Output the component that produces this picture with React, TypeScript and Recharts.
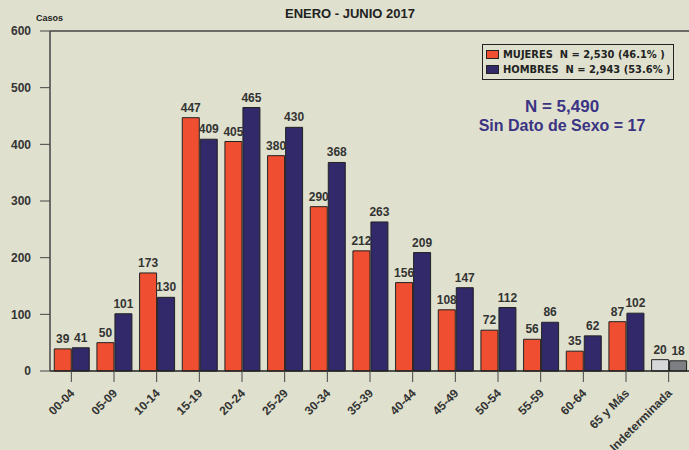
import React from 'react';
import { BarChart, Bar, XAxis, YAxis, LabelList, Cell, ReferenceLine } from 'recharts';

const categories = ['00-04', '05-09', '10-14', '15-19', '20-24', '25-29', '30-34', '35-39', '40-44', '45-49', '50-54', '55-59', '60-64', '65 y Más', 'Indeterminada'];
const mujeres = [39, 50, 173, 447, 405, 380, 290, 212, 156, 108, 72, 56, 35, 87, 20];
const hombres = [41, 101, 130, 409, 465, 430, 368, 263, 209, 147, 112, 86, 62, 102, 18];
const yTicks = [0, 100, 200, 300, 400, 500, 600];

const title = 'ENERO - JUNIO 2017';
const yLabel = 'Casos';
const legendMujeres = 'MUJERES  N = 2,530 (46.1% )';
const legendHombres = 'HOMBRES  N = 2,943 (53.6% )';
const noteTotal = 'N = 5,490';
const noteSinDato = 'Sin Dato de Sexo = 17';

const data = categories.map((c, i) => ({ cat: c, mujeres: mujeres[i], hombres: hombres[i] }));

const BG = '#DFE1CE';
const RED = '#F04E30';
const NAVY = '#31296A';
const FONT = '"Liberation Sans", Arial, sans-serif';

const XTick = (props: any) => {
  const { x, y, payload } = props;
  const ax = x + 4;
  const ay = y + 10;
  return (
    <text x={ax} y={ay} textAnchor="end" transform={`rotate(-45, ${ax}, ${ay})`}
      fontFamily={FONT} fontWeight="bold" fontSize={12} fill="#333">
      {payload.value}
    </text>
  );
};

const swatch = (color: string) => (
  <span style={{ display: 'inline-block', flexShrink: 0, width: 11, height: 7, background: color, border: '1px solid #222', marginRight: 4 }} />
);

export default function App() {
  return (
    <div style={{ position: 'absolute', left: 0, top: 0, width: 689, height: 450, background: BG, overflow: 'hidden', fontFamily: FONT }}>
      <BarChart width={690} height={450} data={data}
        margin={{ top: 31, right: 0, left: 0, bottom: 0 }}
        barCategoryGap="10%" barGap={1}>
        <XAxis dataKey="cat" interval={0} height={79} tickSize={11}
          axisLine={{ stroke: '#222', strokeWidth: 1.5 }} tickLine={{ stroke: '#444' }}
          tick={<XTick />} />
        <YAxis domain={[0, 600]} ticks={yTicks} width={50} tickSize={10} tickMargin={9}
          axisLine={{ stroke: '#444', strokeWidth: 1.5 }} tickLine={{ stroke: '#444' }}
          tick={{ fontFamily: FONT, fontWeight: 'bold', fontSize: 12, fill: '#333' }} />
        <ReferenceLine y={600} stroke="#444" strokeWidth={1.5} />
        <Bar dataKey="mujeres" fill={RED} stroke="#222" strokeWidth={1} isAnimationActive={false}>
          {data.map((d, i) => (
            <Cell key={i} fill={i === data.length - 1 ? '#D6D7D9' : RED} />
          ))}
          <LabelList dataKey="mujeres" position="top" offset={6}
            style={{ fontFamily: FONT, fontWeight: 'bold', fontSize: 12, fill: '#333' }} />
        </Bar>
        <Bar dataKey="hombres" fill={NAVY} stroke="#222" strokeWidth={1} isAnimationActive={false}>
          {data.map((d, i) => (
            <Cell key={i} fill={i === data.length - 1 ? '#7E7F83' : NAVY} />
          ))}
          <LabelList dataKey="hombres" position="top" offset={6}
            style={{ fontFamily: FONT, fontWeight: 'bold', fontSize: 12, fill: '#333' }} />
        </Bar>
      </BarChart>

      <div style={{ position: 'absolute', left: 0, width: 700, top: 6, textAlign: 'center', fontWeight: 'bold', fontSize: 13, color: '#222' }}>{title}</div>
      <div style={{ position: 'absolute', left: 36, top: 13, fontWeight: 'bold', fontSize: 9, color: '#222' }}>{yLabel}</div>

      <div style={{ position: 'absolute', left: 482, top: 44, width: 192, height: 36, border: '1px solid #222', boxSizing: 'border-box', padding: '2px 0 0 3px', fontWeight: 'bold', fontSize: 11, color: '#222', lineHeight: '15px', fontFamily: '"Liberation Sans Narrow", "DejaVu Sans Condensed", Arial, sans-serif' }}>
        <div style={{ display: 'flex', alignItems: 'center', whiteSpace: 'pre' }}>
          {swatch(RED)}{legendMujeres}
        </div>
        <div style={{ display: 'flex', alignItems: 'center', whiteSpace: 'pre' }}>
          {swatch(NAVY)}{legendHombres}
        </div>
      </div>

      <div style={{ position: 'absolute', left: 462, width: 200, top: 97, textAlign: 'center', fontWeight: 'bold', fontSize: 17, color: '#3B3383', lineHeight: '20px' }}>{noteTotal}</div>
      <div style={{ position: 'absolute', left: 462, width: 200, top: 116, textAlign: 'center', fontWeight: 'bold', fontSize: 16, color: '#3B3383', lineHeight: '20px' }}>{noteSinDato}</div>
    </div>
  );
}
